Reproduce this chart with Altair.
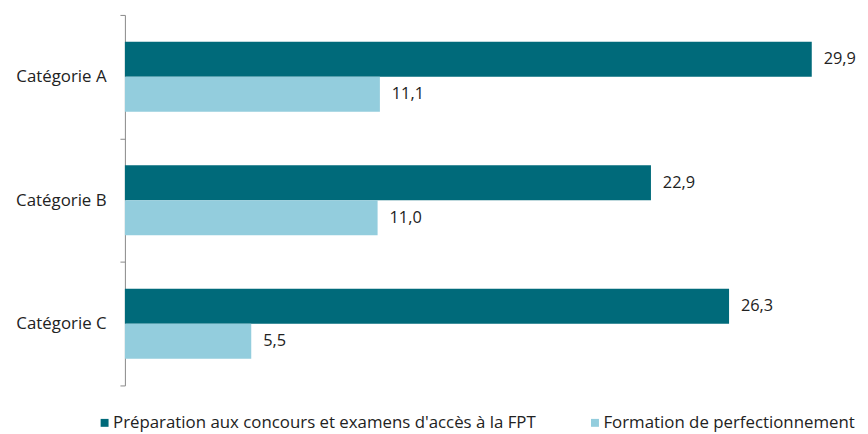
import altair as alt
import pandas as pd

categories = ["Catégorie A", "Catégorie B", "Catégorie C"]
series = ["Préparation aux concours et examens d'accès à la FPT", "Formation de perfectionnement"]
prep_values = [29.9, 22.9, 26.3]
perf_values = [11.1, 11.0, 5.5]
colors = ["#006A7A", "#93CDDD"]

rows = []
for i, c in enumerate(categories):
    rows.append({"cat": c, "series": series[0], "v": prep_values[i]})
    rows.append({"cat": c, "series": series[1], "v": perf_values[i]})
df = pd.DataFrame(rows)

FONT = "Open Sans"
TXT = "#222222"

y = alt.Y("cat:N", sort=categories, title=None,
          scale=alt.Scale(paddingInner=0, paddingOuter=0),
          axis=alt.Axis(domainColor="#888888", tickColor="#888888", tickSize=5,
                        tickBand="extent", labelPadding=14, labelFontSize=17,
                        labelFont=FONT, labelColor=TXT, labelLimit=200))
yoff = alt.YOffset("series:N", sort=series,
                   scale=alt.Scale(paddingInner=0, paddingOuter=0.766))
x = alt.X("v:Q", title=None, scale=alt.Scale(domain=[0, 32], nice=False), axis=None)

base = alt.Chart(df)
bars = base.mark_bar().encode(
    y=y,
    x=x,
    yOffset=yoff,
    color=alt.Color("series:N", sort=series,
                    scale=alt.Scale(domain=series, range=colors),
                    legend=alt.Legend(title=None, orient="none", direction="horizontal",
                                      legendX=-29, legendY=403, symbolType="square",
                                      symbolSize=64, symbolStrokeWidth=0, labelFontSize=17,
                                      labelFont=FONT, labelColor=TXT, columnPadding=50,
                                      labelLimit=600, padding=0, symbolOffset=0, labelOffset=0)),
)
labels = base.mark_text(align="left", baseline="middle", dx=12, fontSize=16.5, font=FONT,
                        color=TXT).transform_calculate(
    lab="replace(format(datum.v, '.1f'), '.', ',')"
).encode(
    y=alt.Y("cat:N", sort=categories),
    x=alt.X("v:Q"),
    yOffset=yoff,
    text="lab:N",
)

chart = alt.layer(bars, labels).properties(
    width=742, height=374,
    autosize=alt.AutoSizeParams(type="none"),
    padding={"left": 118, "top": 5, "right": 0, "bottom": 47},
).configure_view(stroke=None)

chart.save("out.html", embed_options={"renderer": "svg", "actions": False})
